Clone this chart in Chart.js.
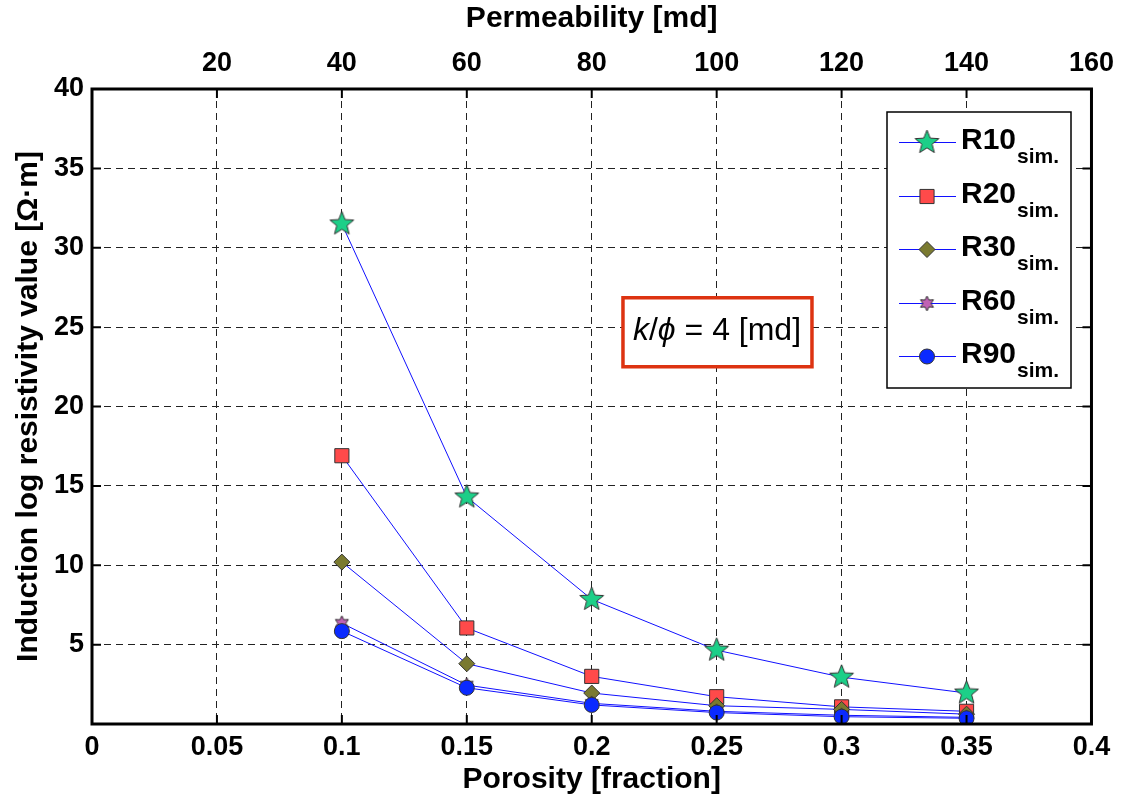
<!DOCTYPE html>
<html>
<head>
<meta charset="utf-8">
<script src="https://cdn.jsdelivr.net/npm/chart.js@4"></script>
<style>
  html, body { margin: 0; padding: 0; background: #fff; }
  #chartDiv { width: 1123px; height: 801px; }
</style>
</head>
<body>
<div id="chartDiv"><canvas id="myChart"></canvas></div>
<script>
// values
const porosity = [0.1, 0.15, 0.2, 0.25, 0.3, 0.35];
const r10 = [31.5, 14.3, 7.85, 4.65, 2.95, 1.95];
const r20 = [16.9, 6.05, 3.0, 1.72, 1.08, 0.8];
const r30 = [10.2, 3.8, 1.95, 1.15, 0.92, 0.62];
const r60 = [6.35, 2.45, 1.3, 0.8, 0.55, 0.42];
const r90 = [5.85, 2.28, 1.2, 0.72, 0.46, 0.36];
const seriesNames = ['R10', 'R20', 'R30', 'R60', 'R90'];

const porosityLabels = ['0', '0.05', '0.1', '0.15', '0.2', '0.25', '0.3', '0.35', '0.4'];
const permeabilityLabels = ['', '20', '40', '60', '80', '100', '120', '140', '160'];
const resistivityLabels = ['', '5', '10', '15', '20', '25', '30', '35', '40'];

const FONT = "'Liberation Sans', Arial, sans-serif";

function starCanvas(points, outer, inner, fill) {
  const size = Math.ceil(outer * 2 + 4);
  const c = document.createElement('canvas');
  c.width = c.height = size;
  const g = c.getContext('2d');
  const cx = size / 2, cy = size / 2;
  g.beginPath();
  for (let i = 0; i < points * 2; i++) {
    const r = i % 2 ? inner : outer;
    const a = -Math.PI / 2 + i * Math.PI / points;
    g.lineTo(cx + r * Math.cos(a), cy + r * Math.sin(a));
  }
  g.closePath();
  g.fillStyle = fill;
  g.fill();
  g.strokeStyle = '#333';
  g.lineWidth = 1;
  g.stroke();
  return c;
}

const star5 = starCanvas(5, 12.5, 5.4, '#1ccf88');
const star6 = starCanvas(6, 7.5, 4, '#c062b4');

const styles = [
  { pointStyle: star5, radius: 12, fill: '#1ccf88' },
  { pointStyle: 'rect', radius: 10, fill: '#ff4a4a' },
  { pointStyle: 'rectRot', radius: 8, fill: '#7a7a30' },
  { pointStyle: star6, radius: 7, fill: '#c062b4' },
  { pointStyle: 'circle', radius: 7.5, fill: '#0a2aff' }
];
const values = [r10, r20, r30, r60, r90];

const datasets = values.map((vals, i) => ({
  label: seriesNames[i],
  data: porosity.map((p, j) => ({ x: p, y: vals[j] })),
  borderColor: '#1010ff',
  borderWidth: 1,
  pointStyle: styles[i].pointStyle,
  pointRadius: styles[i].radius,
  pointBackgroundColor: styles[i].fill,
  pointBorderColor: '#333',
  pointBorderWidth: 1,
  tension: 0,
  fill: false
}));
// draw R10 last so it sits on top like the reference
datasets.forEach((d, i) => d.order = -i);

const frame = {
  id: 'frame',
  afterDraw(chart) {
    const { ctx, chartArea: a, scales } = chart;
    ctx.save();
    // inward tick marks
    ctx.strokeStyle = '#000';
    ctx.lineWidth = 2;
    ctx.beginPath();
    for (let i = 0; i < porosityLabels.length; i++) {
      const x = scales.x.getPixelForValue(i * 0.05);
      ctx.moveTo(x, a.bottom); ctx.lineTo(x, a.bottom - 9);
      ctx.moveTo(x, a.top); ctx.lineTo(x, a.top + 9);
    }
    for (let i = 0; i < resistivityLabels.length; i++) {
      const y = scales.y.getPixelForValue(i * 5);
      ctx.moveTo(a.left, y); ctx.lineTo(a.left + 9, y);
      ctx.moveTo(a.right, y); ctx.lineTo(a.right - 9, y);
    }
    ctx.stroke();
    ctx.lineWidth = 3;
    ctx.strokeRect(a.left, a.top, a.right - a.left, a.bottom - a.top);

    // legend box
    const lx = 887, ly = 112, lw = 184, lh = 276;
    ctx.fillStyle = '#fff';
    ctx.fillRect(lx, ly, lw, lh);
    ctx.lineWidth = 1.5;
    ctx.strokeStyle = '#000';
    ctx.strokeRect(lx, ly, lw, lh);
    seriesNames.forEach((name, i) => {
      const cy = Math.round(142 + i * 53.5) + 0.5;
      ctx.strokeStyle = '#1010ff';
      ctx.lineWidth = 1;
      ctx.beginPath(); ctx.moveTo(899, cy); ctx.lineTo(956, cy); ctx.stroke();
      ctx.beginPath();
      ctx.fillStyle = styles[i].fill;
      ctx.strokeStyle = '#333';
      Chart.helpers.drawPoint(ctx, { pointStyle: styles[i].pointStyle, radius: styles[i].radius, borderWidth: 1, rotation: 0 }, 927, cy);
      ctx.fillStyle = '#000';
      ctx.textAlign = 'left';
      ctx.textBaseline = 'alphabetic';
      ctx.font = 'bold 30px ' + FONT;
      ctx.fillText(name, 961, cy + 6);
      const w = ctx.measureText(name).width;
      ctx.font = 'bold 21px ' + FONT;
      ctx.fillText('sim.', 961 + w + 1, cy + 20);
    });

    // k/phi annotation
    const bx = scales.x.getPixelForValue(0.2125), by = scales.y.getPixelForValue(26.85);
    const bw = 189, bh = 69;
    ctx.fillStyle = '#fff';
    ctx.fillRect(bx, by, bw, bh);
    ctx.strokeStyle = '#dd3311';
    ctx.lineWidth = 3.5;
    ctx.strokeRect(bx, by, bw, bh);
    ctx.fillStyle = '#000';
    let tx = bx + 10;
    const ty = by + 42;
    const parts = [['italic 32px ', 'k'], ['32px ', '/'], ['italic 32px ', 'ϕ'], ['32px ', ' = 4 [md]']];
    parts.forEach(([f, t]) => {
      ctx.font = f + FONT;
      ctx.fillText(t, tx, ty);
      tx += ctx.measureText(t).width;
    });
    ctx.restore();
  }
};

const tickFont = { family: FONT, size: 27, weight: 'bold' };
const titleFont = { family: FONT, size: 30, weight: 'bold' };

new Chart(document.getElementById('myChart'), {
  type: 'line',
  data: { datasets: datasets },
  options: {
    responsive: true,
    maintainAspectRatio: false,
    animation: false,
    layout: { padding: { left: 0, right: 31, top: 0, bottom: 0 } },
    plugins: { legend: { display: false }, tooltip: { enabled: false } },
    scales: {
      x: {
        type: 'linear',
        position: 'bottom',
        min: 0, max: 0.4,
        afterBuildTicks: s => { s.ticks = porosityLabels.map((l, i) => ({ value: i * 0.05 })); },
        afterFit: s => { s.height = 77; },
        ticks: { font: tickFont, color: '#000', padding: 7, maxRotation: 0, autoSkip: false,
                 callback: (v, i) => porosityLabels[i] },
        grid: { color: '#222', lineWidth: 1, drawTicks: false },
        border: { display: false, dash: [7, 5] },
        title: { display: true, text: 'Porosity [fraction]', font: titleFont, color: '#000', padding: { top: 0, bottom: 3 } }
      },
      x2: {
        type: 'linear',
        position: 'top',
        min: 0, max: 160,
        afterBuildTicks: s => { s.ticks = permeabilityLabels.map((l, i) => ({ value: i * 20 })); },
        afterFit: s => { s.height = 89; },
        ticks: { font: tickFont, color: '#000', padding: 9, maxRotation: 0, autoSkip: false,
                 callback: (v, i) => permeabilityLabels[i] },
        grid: { display: false, drawTicks: false },
        border: { display: false },
        title: { display: true, text: 'Permeability [md]', font: titleFont, color: '#000', padding: { top: 1, bottom: 0 } }
      },
      y: {
        type: 'linear',
        position: 'left',
        min: 0, max: 40,
        afterBuildTicks: s => { s.ticks = resistivityLabels.map((l, i) => ({ value: i * 5 })); },
        afterFit: s => { s.width = 92; },
        ticks: { font: tickFont, color: '#000', padding: 8, autoSkip: false,
                 callback: (v, i) => resistivityLabels[i] },
        grid: { color: '#222', lineWidth: 1, drawTicks: false },
        border: { display: false, dash: [7, 5] },
        title: { display: true, text: 'Induction log resistivity value [Ω·m]', font: titleFont, color: '#000', padding: { top: 11, bottom: 0 } }
      }
    }
  },
  plugins: [frame]
});
</script>
</body>
</html>
